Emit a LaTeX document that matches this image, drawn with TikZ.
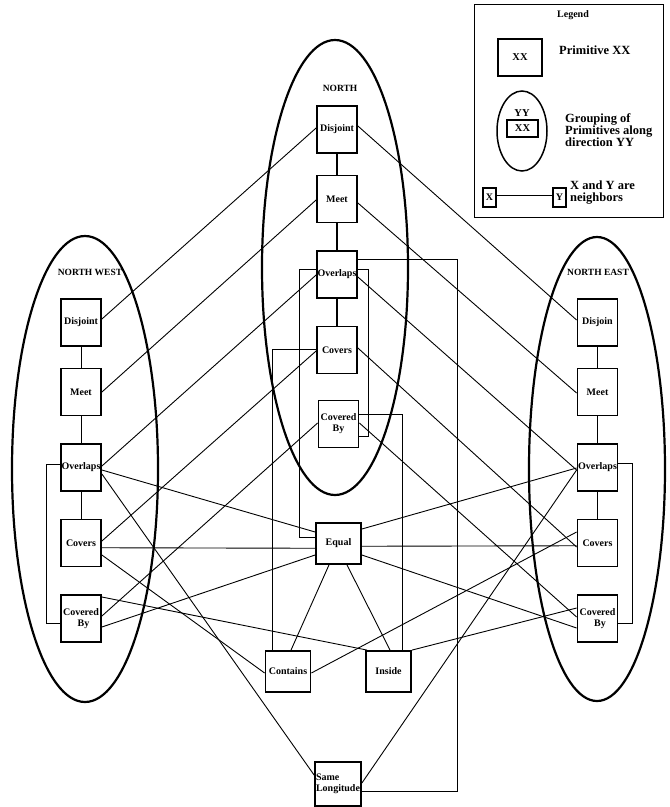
\documentclass[tikz,border=0pt]{standalone}
\usepackage{fontspec}
\setmainfont{Liberation Serif}
\usetikzlibrary{shapes.geometric}
\begin{document}
\begin{tikzpicture}[x=1pt,y=-1pt,
  prim/.style={draw,line width=1.8pt,inner sep=0pt,minimum width=40pt,minimum height=47pt,font=\fontsize{10}{11}\selectfont\bfseries,align=center},
  cprim/.style={prim,minimum width=45pt,minimum height=41pt},
  grp/.style={draw,ellipse,line width=2.2pt,inner sep=0pt},
  lab/.style={font=\fontsize{9.5}{11}\selectfont\bfseries,inner sep=0pt},
  lg/.style={font=\fontsize{12.5}{12.5}\selectfont\bfseries,inner sep=0pt,align=left,anchor=west},
  con/.style={line width=0.9pt},
  chain/.style={line width=1.8pt}]
\useasboundingbox (0,0) rectangle (670,807);
% groups
\node[grp,minimum width=146pt,minimum height=466pt] (nwg) at (85,469) {};
\node[grp,minimum width=146pt,minimum height=455pt] (ng) at (335,267.5) {};
\node[grp,minimum width=136pt,minimum height=464pt] (neg) at (597,469) {};
\node[lab] (nwl) at (90,272) {NORTH WEST};
\node[lab] (nl) at (340,88) {NORTH};
\node[lab] (nel) at (598,272) {NORTH EAST};
% NW column
\node[prim] (nwdis) at (81,322.5) {Disjoint};
\node[prim] (nwmeet) at (81,392) {Meet};
\node[prim] (nwov) at (81,467.5) {Overlaps};
\node[prim] (nwcov) at (81,543) {Covers};
\node[prim] (nwcb) at (81,618.5) {Covered\\\ \ By};
% N column
\node[prim] (ndis) at (337,129.5) {Disjoint};
\node[prim] (nmeet) at (337,199) {Meet};
\node[prim] (nov) at (337,274.5) {Overlaps};
\node[prim] (ncov) at (337,350) {Covers};
\node[prim] (ncb) at (338.5,424) {Covered\\By};
% NE column
\node[prim] (nedis) at (597.5,322.5) {Disjoin};
\node[prim] (nemeet) at (597.5,392) {Meet};
\node[prim] (neov) at (597.5,467.5) {Overlaps};
\node[prim] (necov) at (597.5,543) {Covers};
\node[prim] (necb) at (597.5,618.5) {Covered\\\ \ By};
% center
\node[cprim] (equal) at (338.5,543.5) {Equal};
\node[cprim] (contains) at (288,671.5) {Contains};
\node[cprim] (inside) at (388.5,671.5) {Inside};
\node[prim,minimum width=46pt,minimum height=44pt,align=left] (sl) at (338,784) {Same\\Longitude};
% chains
\draw[con] (nwdis) -- (nwmeet);
\draw[con] (nwmeet) -- (nwov);
\draw[con] (nwov) -- (nwcov);
\draw[chain] (ndis) -- (nmeet);
\draw[chain] (nmeet) -- (nov);
\draw[chain] (nov) -- (ncov);
\draw[con] (nedis) -- (nemeet);
\draw[con] (nemeet) -- (neov);
\draw[con] (neov) -- (necov);
% NW to others
\draw[con] ([yshift=3.5pt]nwdis.east) -- ([yshift=1.5pt]ndis.west);
\draw[con] (nwmeet.east) -- ([yshift=-1pt]nmeet.west);
\draw[con] ([yshift=1.5pt]nwov.east) -- ([yshift=-0.5pt]nov.west);
\draw[con] ([yshift=-2.5pt]nwov.east) -- ([yshift=11.5pt]equal.west);
\draw[con] ([yshift=-6.5pt]nwov.east) -- ([yshift=9pt]sl.west);
\draw[con] ([yshift=2pt]nwcov.east) -- ([yshift=-1pt]ncov.west);
\draw[con] ([yshift=-4.75pt]nwcov.east) -- ([yshift=-4.75pt]equal.west);
\draw[con] ([yshift=-12pt]nwcov.east) -- ([yshift=-1.5pt]contains.west);
\draw[con] ([yshift=2.5pt]nwcb.east) -- ([yshift=1pt]ncb.west);
\draw[con] ([yshift=-8.5pt]nwcb.east) -- ([yshift=-11.5pt]equal.west);
\draw[con] ([yshift=21.5pt]nwcb.east) -- ([xshift=2pt]inside.north west);
% N to NE
\draw[con] ([yshift=3.5pt]ndis.east) -- ([yshift=2.5pt]nedis.west);
\draw[con] ([yshift=-4pt]nmeet.east) -- ([yshift=-1pt]nemeet.west);
\draw[con] ([yshift=-2.5pt]nov.east) -- ([yshift=-2.5pt]neov.west);
\draw[con] ([yshift=2pt]ncov.east) -- ([yshift=-4pt]necov.west);
\draw[con] ([yshift=1pt]ncb.east) -- ([yshift=1.5pt]necb.west);
% center to NE
\draw[con] ([yshift=14.5pt]equal.east) -- ([yshift=-0.5pt]neov.west);
\draw[con] ([yshift=-2.75pt]equal.east) -- ([yshift=-2.75pt]necov.west);
\draw[con] ([yshift=-11.5pt]equal.east) -- ([yshift=-9.5pt]necb.west);
\draw[con] ([yshift=-1.5pt]contains.east) -- ([yshift=11pt]necov.west);
\draw[con] (inside.north east) -- ([yshift=10.5pt]necb.west);
\draw[con] ([yshift=1pt]sl.east) -- ([yshift=-2.5pt]neov.west);
\draw[con] ([xshift=-9.5pt]equal.south) -- ([xshift=3pt]contains.north);
\draw[con] ([xshift=8.5pt]equal.south) -- ([xshift=1.5pt]inside.north);
% elbows
\draw[con] ([yshift=5.5pt]nov.west) -- ++(-17,0) |- ([yshift=6.5pt]equal.west);
\draw[con] ([yshift=5.5pt]nov.east) -- ++(11,0) |- ([yshift=-12pt]ncb.east);
\draw[con] ([yshift=1pt]ncov.west) -| ([xshift=-16pt]contains.north);
\draw[con] ([yshift=10pt]ncb.east) -| ([xshift=13.5pt]inside.north);
\draw[con] ([yshift=15.5pt]nov.east) -- ++(100,0) |- ([yshift=-7pt]sl.east);
\draw[con] ([yshift=3.5pt]nwov.west) -- ++(-14,0) |- ([yshift=-4.5pt]nwcb.west);
\draw[con] ([yshift=4.5pt]neov.east) -- ++(14.5,0) |- ([yshift=-4.5pt]necb.east);
% legend
\node[draw,line width=1pt,minimum width=189pt,minimum height=213pt,inner sep=0pt] (legend) at (568.5,110.5) {};
\node[lab,font=\fontsize{10}{11}\selectfont\bfseries] (legt) at (573,15) {Legend};
\node[draw,line width=1.8pt,minimum width=44pt,minimum height=37pt,inner sep=0pt,font=\fontsize{10.5}{11}\selectfont\bfseries] (lxx) at (520,57.5) {XX};
\node[lg] (lprim) at (559,50) {Primitive XX};
\node[grp,line width=1.5pt,minimum width=50pt,minimum height=80pt] (lell) at (522,131) {};
\node[lab,font=\fontsize{10.5}{11}\selectfont\bfseries] (lyy) at (522,113) {YY};
\node[draw,line width=1.8pt,minimum width=31pt,minimum height=17pt,inner sep=0pt,font=\fontsize{10.5}{11}\selectfont\bfseries] (lxx2) at (522.5,128.5) {XX};
\node[lg,font=\fontsize{12.5}{12}\selectfont\bfseries] (lgrp) at (565,130) {Grouping of\\Primitives along\\direction YY};
\node[draw,line width=1.5pt,minimum width=13pt,minimum height=19pt,inner sep=0pt,font=\fontsize{10}{11}\selectfont\bfseries] (lx) at (489.5,197.5) {X};
\node[draw,line width=1.5pt,minimum width=13pt,minimum height=19pt,inner sep=0pt,font=\fontsize{10}{11}\selectfont\bfseries] (ly) at (559.5,197.5) {Y};
\draw[con] ([yshift=2.5pt]lx.east) -- ([yshift=2.5pt]ly.west);
\node[lg,font=\fontsize{12.5}{12}\selectfont\bfseries] (lnb) at (570,193) {X and Y are\\neighbors};
\end{tikzpicture}
\end{document}
